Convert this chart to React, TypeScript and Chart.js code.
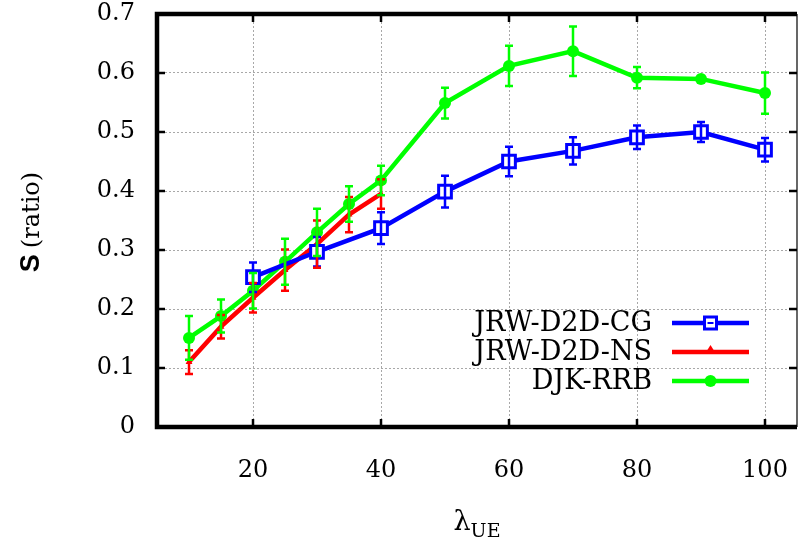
import React, { useEffect, useRef } from "react";
import { Chart, registerables } from "chart.js";

Chart.register(...registerables);

// ---- data ----
const xCG = [20, 30, 40, 50, 60, 70, 80, 90, 100];
const yCG = [0.254, 0.297, 0.337, 0.399, 0.45, 0.468, 0.491, 0.5, 0.47];
const eCG = [0.025, 0.025, 0.027, 0.027, 0.025, 0.023, 0.02, 0.017, 0.02];

const xNS = [10, 15, 20, 25, 30, 35, 40];
const yNS = [0.11, 0.17, 0.219, 0.266, 0.31, 0.36, 0.395];
const eNS = [0.02, 0.02, 0.025, 0.035, 0.04, 0.03, 0.025];

const xRRB = [10, 15, 20, 25, 30, 35, 40, 50, 60, 70, 80, 90, 100];
const yRRB = [0.151, 0.188, 0.231, 0.28, 0.33, 0.378, 0.418, 0.549, 0.612, 0.637, 0.592, 0.59, 0.566];
const eRRB = [0.037, 0.028, 0.03, 0.039, 0.04, 0.03, 0.025, 0.026, 0.034, 0.042, 0.018, 0.005, 0.035];

const seriesLabels = ["JRW-D2D-CG", "JRW-D2D-NS", "DJK-RRB"];
const seriesColors = ["#0000ff", "#ff0000", "#00ff00"];
const xTicks = [20, 40, 60, 80, 100];
const yTickStep = 0.1;

const SERIF = '"DejaVu Serif", serif';

const errs = [eCG, eNS, eRRB];

const errorBarPlugin = {
  id: "errorBars",
  afterDatasetsDraw(chart: any) {
    const { ctx, chartArea, scales } = chart;
    ctx.save();
    ctx.beginPath();
    ctx.rect(chartArea.left, chartArea.top, chartArea.right - chartArea.left, chartArea.bottom - chartArea.top);
    ctx.clip();
    chart.data.datasets.forEach((ds: any, i: number) => {
      ctx.strokeStyle = ds.borderColor;
      ctx.lineWidth = 2.5;
      ds.data.forEach((p: any, j: number) => {
        const e = errs[i][j];
        const x = scales.x.getPixelForValue(p.x);
        const y1 = scales.y.getPixelForValue(p.y - e);
        const y2 = scales.y.getPixelForValue(p.y + e);
        ctx.beginPath();
        ctx.moveTo(x, y1);
        ctx.lineTo(x, y2);
        ctx.moveTo(x - 4, y1);
        ctx.lineTo(x + 4, y1);
        ctx.moveTo(x - 4, y2);
        ctx.lineTo(x + 4, y2);
        ctx.stroke();
      });
    });
    ctx.restore();
  },
};

const framePlugin = {
  id: "frame",
  afterDraw(chart: any) {
    const { ctx, chartArea, scales } = chart;
    const { left, right, top, bottom } = chartArea;
    ctx.save();
    // ticks inward
    ctx.strokeStyle = "#000";
    ctx.lineWidth = 2.5;
    const tl = 8;
    scales.y.ticks.forEach((t: any) => {
      const y = scales.y.getPixelForValue(t.value);
      ctx.beginPath();
      ctx.moveTo(left, y);
      ctx.lineTo(left + tl, y);
      ctx.moveTo(right, y);
      ctx.lineTo(right - tl, y);
      ctx.stroke();
    });
    scales.x.ticks.forEach((t: any) => {
      const x = scales.x.getPixelForValue(t.value);
      ctx.beginPath();
      ctx.moveTo(x, bottom);
      ctx.lineTo(x, bottom - tl);
      ctx.moveTo(x, top);
      ctx.lineTo(x, top + tl);
      ctx.stroke();
    });
    // frame
    ctx.lineWidth = 4.5;
    ctx.lineJoin = "miter";
    ctx.beginPath();
    ctx.moveTo(right, top);
    ctx.lineTo(left, top);
    ctx.lineTo(left, bottom);
    ctx.lineTo(right, bottom);
    ctx.stroke();
    ctx.lineWidth = 1.2;
    ctx.beginPath();
    ctx.moveTo(right, top);
    ctx.lineTo(right, bottom);
    ctx.stroke();

    // legend
    const rows = [323, 352, 381];
    const textRight = right - 145;
    const lx1 = right - 125;
    const lx2 = right - 48;
    const mx = (lx1 + lx2) / 2;
    ctx.font = `27px ${SERIF}`;
    ctx.textAlign = "right";
    ctx.textBaseline = "middle";
    seriesLabels.forEach((lab, i) => {
      const y = rows[i];
      ctx.fillStyle = "#000";
      ctx.fillText(lab, textRight, y + 1);
      ctx.strokeStyle = seriesColors[i];
      ctx.lineWidth = 4.5;
      ctx.beginPath();
      ctx.moveTo(lx1, y);
      ctx.lineTo(lx2, y);
      ctx.stroke();
      if (i === 0) {
        ctx.fillStyle = "#fff";
        ctx.fillRect(mx - 6, y - 6, 12, 12);
        ctx.lineWidth = 3;
        ctx.strokeRect(mx - 6, y - 6, 12, 12);
        ctx.lineWidth = 2;
        ctx.beginPath();
        ctx.moveTo(mx - 3, y);
        ctx.lineTo(mx + 3, y);
        ctx.stroke();
      } else if (i === 1) {
        ctx.fillStyle = seriesColors[i];
        ctx.beginPath();
        ctx.moveTo(mx, y - 7);
        ctx.lineTo(mx - 5, y + 1);
        ctx.lineTo(mx + 5, y + 1);
        ctx.closePath();
        ctx.fill();
      } else {
        ctx.fillStyle = seriesColors[i];
        ctx.beginPath();
        ctx.arc(mx, y, 6, 0, Math.PI * 2);
        ctx.fill();
      }
    });

    // y title
    ctx.save();
    ctx.translate(30, 222);
    ctx.rotate(-Math.PI / 2);
    ctx.textBaseline = "alphabetic";
    ctx.textAlign = "left";
    const sFont = 'bold 27px "Liberation Sans", sans-serif';
    const rFont = `24px ${SERIF}`;
    ctx.font = sFont;
    const wS = ctx.measureText("S").width;
    ctx.font = rFont;
    const wR = ctx.measureText("(ratio)").width;
    const gap = 6;
    const total = wS + gap + wR;
    ctx.fillStyle = "#000";
    ctx.font = sFont;
    ctx.fillText("S", -total / 2, 9);
    ctx.font = rFont;
    ctx.fillText("(ratio)", -total / 2 + wS + gap, 9);
    ctx.restore();

    // x title
    ctx.fillStyle = "#000";
    ctx.textAlign = "left";
    ctx.textBaseline = "alphabetic";
    const lFont = `27px ${SERIF}`;
    const uFont = `19px ${SERIF}`;
    ctx.font = lFont;
    const wl = ctx.measureText("λ").width;
    ctx.font = uFont;
    const wu = ctx.measureText("UE").width;
    const cx = (left + right) / 2;
    const sx = cx - (wl + wu) / 2;
    ctx.font = lFont;
    ctx.fillText("λ", sx, 530);
    ctx.font = uFont;
    ctx.fillText("UE", sx + wl, 537);
    ctx.restore();
  },
};

const zeroPad = (scale: any) => {
  scale.paddingTop = 0;
  scale.paddingBottom = 0;
  scale.paddingLeft = 0;
  scale.paddingRight = 0;
};

export default function App() {
  const ref = useRef<HTMLCanvasElement | null>(null);
  useEffect(() => {
    if (!ref.current) return;
    const mk = (xs: number[], ys: number[]) => xs.map((x, i) => ({ x, y: ys[i] }));
    const chart = new Chart(ref.current, {
      type: "line",
      data: {
        datasets: [
          {
            label: seriesLabels[0],
            data: mk(xCG, yCG),
            borderColor: seriesColors[0],
            backgroundColor: "#ffffff",
            borderWidth: 4.5,
            pointStyle: "rect",
            pointRadius: 9,
            pointBorderWidth: 3,
            pointBorderColor: seriesColors[0],
            pointBackgroundColor: "#ffffff",
          },
          {
            label: seriesLabels[1],
            data: mk(xNS, yNS),
            borderColor: seriesColors[1],
            backgroundColor: seriesColors[1],
            borderWidth: 4.5,
            pointStyle: "triangle",
            pointRadius: 4,
            pointBorderWidth: 0,
            pointBackgroundColor: seriesColors[1],
          },
          {
            label: seriesLabels[2],
            data: mk(xRRB, yRRB),
            borderColor: seriesColors[2],
            backgroundColor: seriesColors[2],
            borderWidth: 4.5,
            pointStyle: "circle",
            pointRadius: 6,
            pointBorderWidth: 0,
            pointBackgroundColor: seriesColors[2],
          },
        ],
      },
      options: {
        animation: false,
        responsive: false,
        maintainAspectRatio: false,
        layout: { autoPadding: false, padding: { left: 0, top: 14, right: 1, bottom: 0 } },
        plugins: { legend: { display: false }, tooltip: { enabled: false } },
        scales: {
          x: {
            type: "linear",
            min: 5,
            max: 105,
            afterBuildTicks: (scale: any) => {
              scale.ticks = xTicks.map((v) => ({ value: v }));
            },
            afterFit: (scale: any) => {
              scale.height = 120;
              zeroPad(scale);
            },
            grid: { color: "#a8a8a8", lineWidth: 1, drawTicks: false },
            border: { display: false, dash: [2, 2] },
            ticks: {
              color: "#000",
              font: { family: "DejaVu Serif", size: 24 },
              padding: 29,
              maxRotation: 0,
              callback: (v: any) => String(v),
            },
          },
          y: {
            type: "linear",
            min: 0,
            max: 0.7,
            afterFit: (scale: any) => {
              scale.width = 157;
              zeroPad(scale);
            },
            grid: { color: "#a8a8a8", lineWidth: 1, drawTicks: false },
            border: { display: false, dash: [2, 2] },
            ticks: {
              stepSize: yTickStep,
              color: "#000",
              font: { family: "DejaVu Serif", size: 24 },
              padding: 22,
              callback: (v: any) => (Math.abs(v) < 1e-9 ? "0" : Number(v).toFixed(1)),
            },
          },
        },
      },
      plugins: [errorBarPlugin, framePlugin],
    });
    return () => chart.destroy();
  }, []);
  return (
    <div style={{ position: "fixed", left: 0, top: 0, width: 798, height: 547, background: "#fff" }}>
      <canvas ref={ref} width={798} height={547} style={{ display: "block", width: 798, height: 547 }} />
    </div>
  );
}
